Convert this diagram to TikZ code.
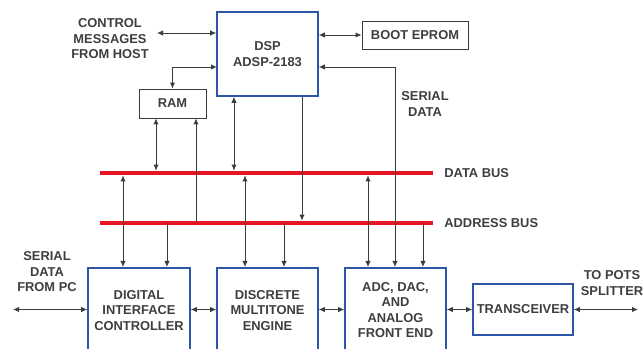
\documentclass[tikz,border=0pt]{standalone}
\usepackage{fontspec}
\setmainfont{Liberation Sans}
\usepackage{xcolor}
\usepackage{tikz}
\usetikzlibrary{arrows.meta, positioning}
\definecolor{boxblue}{RGB}{45,85,170}
\definecolor{busred}{RGB}{232,22,34}
\definecolor{txtgray}{RGB}{62,62,62}
\definecolor{linegray}{RGB}{60,60,60}
\tikzset{
    lbl/.style={align=center, text=txtgray, font=\fontsize{11}{13.2}\selectfont\bfseries, inner sep=0pt},
    bluebox/.style={lbl, rectangle, draw=boxblue, line width=1.3pt},
    greybox/.style={lbl, rectangle, draw=linegray, line width=0.7pt},
    bus/.style={draw=busred, line width=4pt},
    sgl/.style={-{Latex[length=1.8mm, width=1.6mm]}, draw=linegray, line width=0.75pt},
    dbl/.style={{Latex[length=1.8mm, width=1.6mm]}-{Latex[length=1.8mm, width=1.6mm]}, draw=linegray, line width=0.75pt}
}

\begin{document}
\begin{tikzpicture}[x=0.03cm, y=-0.03cm]
  \useasboundingbox (0,0) rectangle (643,349);
  \clip (0,0) rectangle (643,349);
  \node[bluebox, minimum width=3.03cm, minimum height=2.52cm] (dsp) at (267.5,54) {DSP\\ADSP-2183};
  \node[greybox, minimum width=2.01cm, minimum height=0.87cm] (ram) at (172.5,103.5) {RAM};
  \node[greybox, minimum width=3.18cm, minimum height=0.84cm] (boot) at (415,35) {BOOT EPROM};
  \node[bluebox, anchor=north, minimum width=3.06cm, minimum height=2.55cm] (dic) at (139,267) {DIGITAL\\INTERFACE\\CONTROLLER};
  \node[bluebox, anchor=north, minimum width=3.03cm, minimum height=2.55cm] (dmt) at (267.5,267) {DISCRETE\\MULTITONE\\ENGINE};
  \node[bluebox, anchor=north, minimum width=3.03cm, minimum height=2.55cm] (afe) at (395.5,267) {ADC, DAC,\\AND\\ANALOG\\FRONT END};
  \node[bluebox, minimum width=3.0cm, minimum height=1.53cm] (trx) at (523,309.5) {TRANSCEIVER};
  \node[lbl] (host) at (110,39) {CONTROL\\MESSAGES\\FROM HOST};
  \node[lbl] (serlbl) at (425,104) {SERIAL\\DATA};
  \node[lbl] (pclbl) at (47,272) {SERIAL\\DATA\\FROM PC};
  \node[lbl] (potslbl) at (612,283) {TO POTS\\SPLITTER};
  \coordinate (hostend) at (157,33);
  \coordinate (dspin) at (217,67);
  \coordinate (sd) at (395,67);
  \coordinate (pcend) at (13,309.5);
  \coordinate (potsend) at (638,309.5);
  \coordinate (dbL) at (100,173);
  \coordinate (dbR) at (433,173);
  \coordinate (abL) at (100,223);
  \coordinate (abR) at (433,223);
  \coordinate (r1) at (156,0);
  \coordinate (r2) at (196,0);
  \coordinate (d1) at (234,0);
  \coordinate (d2) at (302,0);
  \coordinate (c1) at (123,0);
  \coordinate (c2) at (167,0);
  \coordinate (m1) at (245,0);
  \coordinate (m2) at (284,0);
  \coordinate (a1) at (368,0);
  \coordinate (a2) at (423,0);
  \draw[bus] (dbL) -- (dbR) node[lbl, anchor=west, right=0.27cm] (dbus) {DATA BUS};
  \draw[bus] (abL) -- (abR) node[lbl, anchor=west, right=0.27cm] (abus) {ADDRESS BUS};
  \draw[dbl] (hostend) -- (hostend -| dsp.west);
  \draw[dbl] (dsp.east |- boot.west) -- (boot.west);
  \draw[dbl] (ram.north) |- (dspin);
  \draw[dbl] (dsp.east |- sd) -- (sd) -- (sd |- afe.north);
  \draw[dbl, shorten >=2pt] (r1 |- ram.south) -- (r1 |- dbL);
  \draw[sgl] (r2 |- abL) -- (r2 |- ram.south);
  \draw[dbl, shorten >=2pt] (d1 |- dsp.south) -- (d1 |- dbL);
  \draw[sgl, shorten >=2pt] (d2 |- dsp.south) -- (d2 |- abL);
  \draw[dbl, shorten <=2pt] (c1 |- dbL) -- (c1 |- dic.north);
  \draw[sgl] (c2 |- abL) -- (c2 |- dic.north);
  \draw[dbl, shorten <=2pt] (m1 |- dbL) -- (m1 |- dmt.north);
  \draw[sgl] (m2 |- abL) -- (m2 |- dmt.north);
  \draw[dbl, shorten <=2pt] (a1 |- dbL) -- (a1 |- afe.north);
  \draw[sgl] (a2 |- abL) -- (a2 |- afe.north);
  \draw[dbl] (pcend) -- (pcend -| dic.west);
  \draw[dbl] (dic.east |- trx.west) -- (dmt.west |- trx.west);
  \draw[dbl] (dmt.east |- trx.west) -- (afe.west |- trx.west);
  \draw[dbl] (afe.east |- trx.west) -- (trx.west);
  \draw[dbl] (trx.east) -- (potsend);
\end{tikzpicture}
\end{document}
